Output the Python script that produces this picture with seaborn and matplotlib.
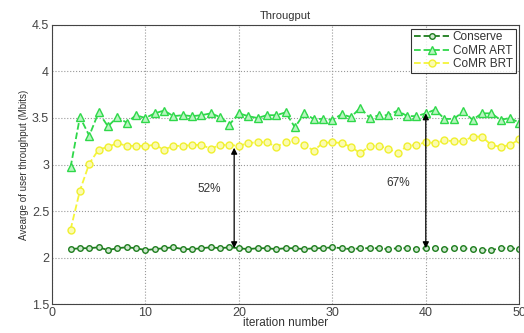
import numpy as np
import pandas as pd
import matplotlib
matplotlib.use('Agg')
import matplotlib.pyplot as plt
import seaborn as sns

# data
iterations = list(range(2, 51))

conserve = [2.09, 2.10, 2.10, 2.11, 2.08, 2.10, 2.11, 2.10, 2.08, 2.09, 2.10, 2.11, 2.09, 2.09,
            2.10, 2.11, 2.10, 2.11, 2.10, 2.09, 2.10, 2.10, 2.09, 2.10, 2.10, 2.09, 2.10, 2.10,
            2.11, 2.10, 2.09, 2.10, 2.10, 2.10, 2.09, 2.10, 2.10, 2.09, 2.10, 2.10, 2.09, 2.10,
            2.10, 2.09, 2.08, 2.08, 2.10, 2.10, 2.09]
comr_art = [2.97, 3.51, 3.31, 3.56, 3.41, 3.51, 3.45, 3.53, 3.50, 3.55, 3.58, 3.52, 3.53, 3.52,
            3.53, 3.55, 3.51, 3.43, 3.55, 3.52, 3.50, 3.53, 3.53, 3.56, 3.40, 3.55, 3.49, 3.49,
            3.48, 3.54, 3.51, 3.61, 3.50, 3.53, 3.53, 3.58, 3.52, 3.52, 3.55, 3.59, 3.49, 3.49,
            3.57, 3.48, 3.55, 3.55, 3.48, 3.50, 3.45]
comr_brt = [2.30, 2.72, 3.01, 3.16, 3.19, 3.23, 3.20, 3.20, 3.20, 3.21, 3.16, 3.20, 3.20, 3.21,
            3.21, 3.17, 3.21, 3.21, 3.20, 3.23, 3.24, 3.24, 3.19, 3.24, 3.26, 3.21, 3.15, 3.23,
            3.24, 3.23, 3.19, 3.12, 3.20, 3.20, 3.17, 3.12, 3.20, 3.21, 3.24, 3.23, 3.26, 3.25,
            3.25, 3.30, 3.30, 3.21, 3.19, 3.21, 3.27]

gain_labels = ['52%', '67%']
gain_x = [19.5, 40]
gain_top = [3.18, 3.55]
gain_bottom = [2.10, 2.10]
gain_text_x = [16.8, 37.0]
gain_text_y = [2.74, 2.80]

df = pd.DataFrame({'iteration': iterations, 'Conserve': conserve,
                   'CoMR ART': comr_art, 'CoMR BRT': comr_brt})

sns.set_style('white')
plt.rcParams['font.family'] = ['Liberation Sans', 'DejaVu Sans']

fig = plt.figure(figsize=(5.24, 3.33), dpi=100)
ax = fig.add_axes([0.099, 0.087, 0.892, 0.838])

sns.lineplot(data=df, x='iteration', y='Conserve', ax=ax, color='#1e7d1e', linestyle='--',
             linewidth=1.3, marker='o', markersize=4, markerfacecolor='#cfe8cf',
             markeredgecolor='#1e7d1e', markeredgewidth=1.0, label='Conserve')
sns.lineplot(data=df, x='iteration', y='CoMR ART', ax=ax, color='#2fd84a', linestyle='--',
             linewidth=1.3, marker='^', markersize=5.5, markerfacecolor='#b8f5c0',
             markeredgecolor='#2fd84a', markeredgewidth=1.0, label='CoMR ART')
sns.lineplot(data=df, x='iteration', y='CoMR BRT', ax=ax, color='#f5f53a', linestyle='--',
             linewidth=1.3, marker='o', markersize=5, markerfacecolor='#fbfbb0',
             markeredgecolor='#f0f030', markeredgewidth=1.0, label='CoMR BRT')

for lab, x, top, bot, tx, ty in zip(gain_labels, gain_x, gain_top, gain_bottom, gain_text_x, gain_text_y):
    ax.annotate('', xy=(x, bot), xytext=(x, top),
                arrowprops=dict(arrowstyle='<|-|>', color='black', lw=0.9,
                                mutation_scale=9, shrinkA=0, shrinkB=0))
    ax.text(tx, ty, lab, fontsize=8.5, color='#333333', ha='center', va='center')

ax.set_xlim(0, 50)
ax.set_ylim(1.5, 4.5)
ax.set_xticks([0, 10, 20, 30, 40, 50])
ax.set_yticks([1.5, 2, 2.5, 3, 3.5, 4, 4.5])
ax.set_yticklabels(['1.5', '2', '2.5', '3', '3.5', '4', '4.5'])
ax.grid(True, linestyle=':', color='#999999', linewidth=0.8)
ax.tick_params(direction='in', labelsize=9, colors='#444444', length=3, pad=2)
for s in ax.spines.values():
    s.set_color('#444444')
    s.set_linewidth(0.8)

ax.set_title('Througput', fontsize=8, color='#333333', pad=4)
ax.set_xlabel('iteration number', fontsize=8.5, color='#333333', labelpad=-1)
ax.set_ylabel('Avearge of user throughput (Mbits)', fontsize=7, color='#333333', labelpad=2)

leg = ax.legend(loc='upper right', fontsize=8.5, frameon=True, fancybox=False,
                borderaxespad=0.3, handlelength=3.0, borderpad=0.25, labelspacing=0.1,
                handletextpad=0.3)
leg.get_frame().set_edgecolor('black')
leg.get_frame().set_linewidth(0.8)
for t in leg.get_texts():
    t.set_color('#333333')

plt.savefig('out.png', dpi=100)
plt.close()
